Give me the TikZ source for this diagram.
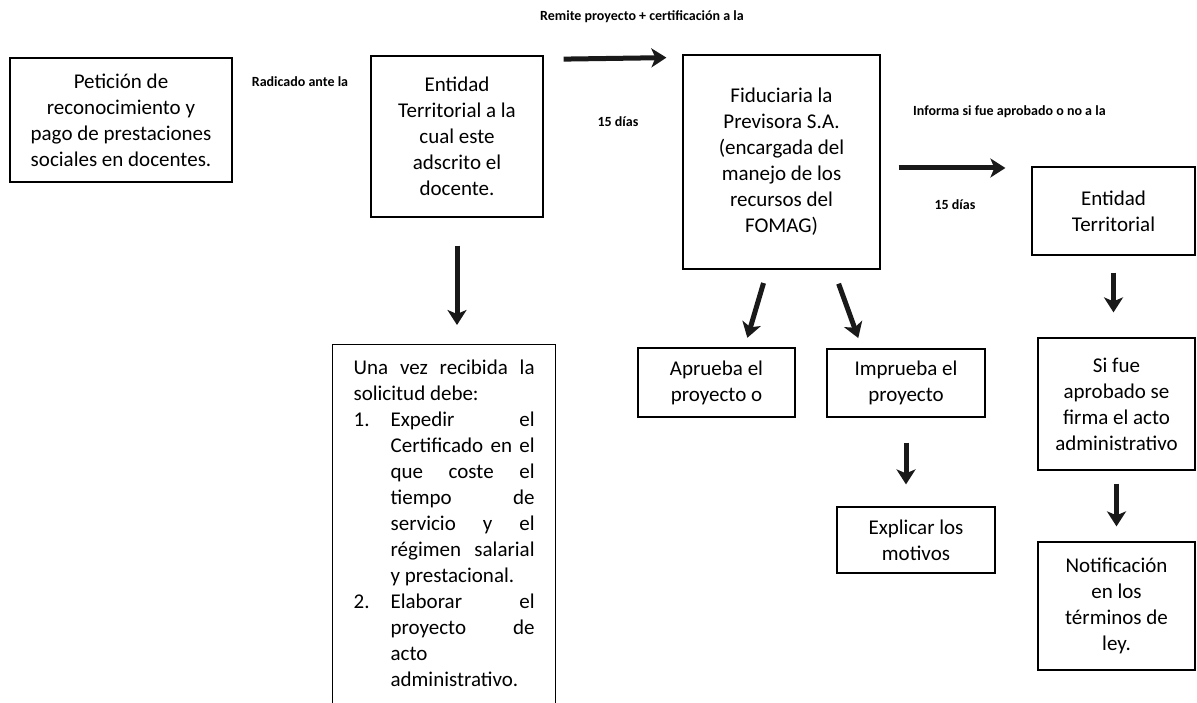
\documentclass[tikz,border=0pt]{standalone}
\usepackage{fontspec}
\setmainfont{Carlito}
\usetikzlibrary{arrows.meta, positioning}
\tikzstyle{arrow} = [line width=5pt, draw=black!90, -{Stealth[length=15pt,width=19pt,inset=4pt]}]
\tikzstyle{process} = [rectangle, draw=black, line width=1.2pt, inner sep=0pt, align=center, font=\fontsize{21}{26}\selectfont]
\tikzstyle{note} = [inner sep=0pt, font=\fontsize{14}{16}\selectfont\bfseries]
\newcommand\jline[1]{\hbox to 181pt{#1}}
\newcommand\jitem[2]{\jline{\hbox to 37pt{#1\hfill}#2}}

\begin{document}
\begin{tikzpicture}[x=1pt, y=-1pt]
\useasboundingbox (0,0) rectangle (1197,703);
% Placement of nodes
\node (peticion) [process, minimum width=222pt, minimum height=124pt] at (121,120) {Petición de\\reconocimiento y\\pago de prestaciones\\sociales en docentes.};
\node (entidad) [process, minimum width=172pt, minimum height=161pt] at (457,136.5) {Entidad\\Territorial a la\\cual este\\adscrito el\\docente.};
\node (fiduciaria) [process, minimum width=197pt, minimum height=214pt] at (781.5,162) {Fiduciaria la\\Previsora S.A.\\(encargada del\\manejo de los\\recursos del\\FOMAG)};
\node (territorial) [process, minimum width=163pt, minimum height=88pt] at (1113.5,211) {Entidad\\Territorial};
\node (recibida) [process, anchor=north west, inner xsep=21pt, inner ysep=15pt] at (332,344) {\vbox{%
  \jline{Una\hfill vez\hfill recibida\hfill la}
  \jline{solicitud debe:\hfill}
  \jitem{1.}{Expedir\hfill el}
  \jitem{}{Certificado\hfill en\hfill el}
  \jitem{}{que\hfill coste\hfill el}
  \jitem{}{tiempo\hfill de}
  \jitem{}{servicio\hfill y\hfill el}
  \jitem{}{régimen\hfill salarial}
  \jitem{}{y prestacional.\hfill}
  \jitem{2.}{Elaborar\hfill el}
  \jitem{}{proyecto\hfill de}
  \jitem{}{acto\hfill}
  \jitem{}{administrativo.\hfill}
  \vskip 30pt}};
\node (aprueba) [process, minimum width=157pt, minimum height=69pt] at (716.5,382.5) {Aprueba el\\proyecto o};
\node (imprueba) [process, minimum width=158pt, minimum height=68pt] at (906,383) {Imprueba el\\proyecto};
\node (explicar) [process, minimum width=158pt, minimum height=66pt] at (916,540) {Explicar los\\motivos};
\node (firma) [process, minimum width=157pt, minimum height=132pt] at (1116.5,404) {Si fue\\aprobado se\\firma el acto\\administrativo};
\node (notificacion) [process, minimum width=157pt, minimum height=128pt] at (1116.5,606) {Notificación\\en los\\términos de\\ley.};

% Labels of the arrows
\node (remite) [note] at (642,17) {Remite proyecto + certificación a la};
\node (radicado) [note] at (300,82) {Radicado ante la};
\node (dias1) [note] at (618,122) {15 días};
\node (informa) [note, anchor=west] at (913,112) {Informa si fue aprobado o no a la};
\node (dias2) [note] at (955,205) {15 días};

% Placement of edges
\draw [arrow, shorten <=20pt, shorten >=16pt] ([yshift=-4pt]entidad.north east) -- ([yshift=-3pt]fiduciaria.north west);
\draw [arrow, shorten <=18pt, shorten >=26pt] ([yshift=-6pt]fiduciaria.east) -- ([yshift=-6pt]fiduciaria.east -| territorial.west);
\draw [arrow, shorten <=28pt, shorten >=19pt] (entidad.south) -- (entidad.south |- recibida.north);
\draw [arrow, shorten <=14pt, shorten >=10pt] ([xshift=-14pt]fiduciaria.south) -- ([xshift=28pt]aprueba.north);
\draw [arrow, shorten <=15pt, shorten >=11pt] ([xshift=52pt]fiduciaria.south) -- ([xshift=-44pt]imprueba.north);
\draw [arrow, shorten <=25pt, shorten >=22pt] (imprueba.south) -- (imprueba.south |- explicar.north);
\draw [arrow, shorten <=17pt, shorten >=25pt] (territorial.south) -- (territorial.south |- firma.north);
\draw [arrow, shorten <=13pt, shorten >=15pt] (firma.south) -- (notificacion.north);
\end{tikzpicture}
\end{document}
